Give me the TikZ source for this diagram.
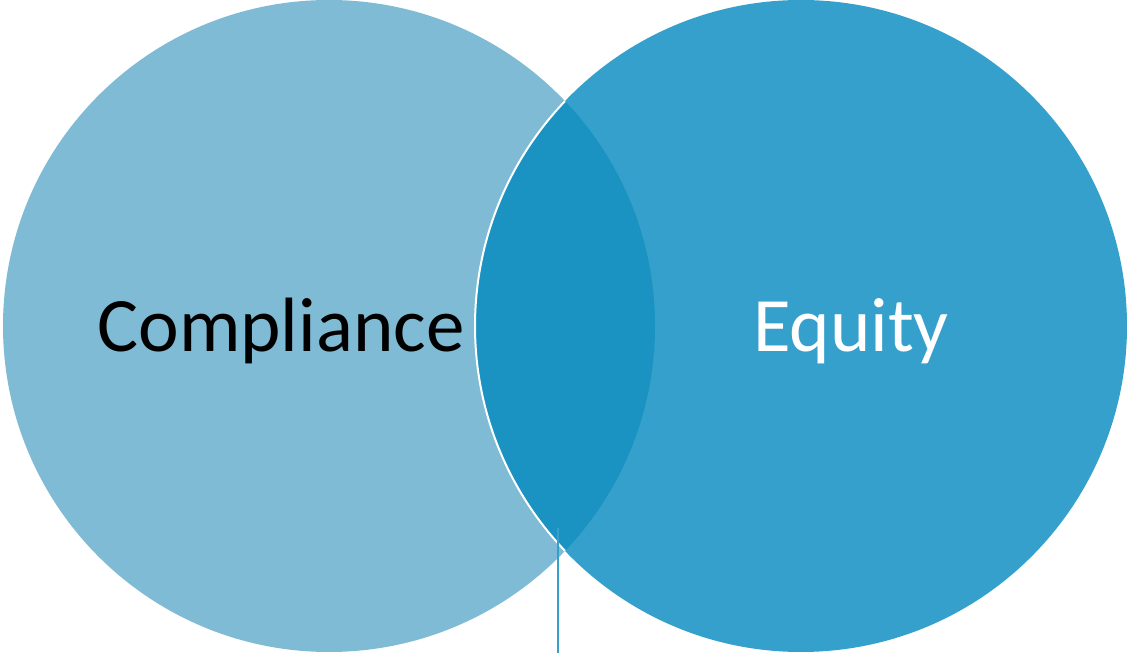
\documentclass[tikz,border=0pt]{standalone}
\usepackage{fontspec}
\setmainfont{Carlito}
\definecolor{setA}{HTML}{7FBBD5}
\definecolor{setB}{HTML}{35A0CC}
\definecolor{setAB}{HTML}{1A93C2}
\definecolor{tick}{HTML}{35A0CC}
\begin{document}
\begin{tikzpicture}[x=1pt,y=1pt,
  setlabel/.style={anchor=base,inner sep=0pt,font=\fontsize{77}{92}\selectfont}]
\useasboundingbox (0,0) rectangle (1127,653);
% the two sets
\coordinate (ca) at (329,327);
\coordinate (cb) at (801,327);
\fill[setA] (ca) circle[radius=326];
\fill[setB] (cb) circle[radius=326];
% shared region
\begin{scope}
  \clip (ca) circle[radius=326];
  \fill[setAB] (cb) circle[radius=326];
\end{scope}
% white rim of the right set where it lies on the left one
\begin{scope}
  \clip (ca) circle[radius=326];
  \draw[white,line width=2] (cb) circle[radius=326];
\end{scope}
% marker line below the overlap
\coordinate (mtop) at (557.5,125);
\coordinate (mbot) at (557.5,0);
\draw[tick,line width=2] (mtop) -- (mbot);
\node[setlabel,text=black] (compliance) at (281,301) {Compliance};
\node[setlabel,text=white] (equity) at (851,301) {Equity};
\end{tikzpicture}
\end{document}
